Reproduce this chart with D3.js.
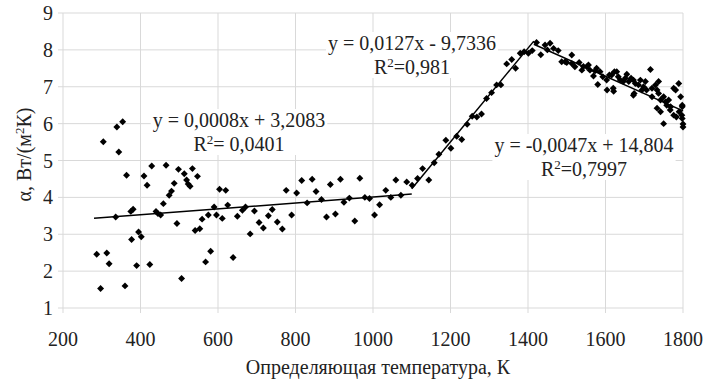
<!DOCTYPE html>
<html>
<head>
<meta charset="utf-8">
<script src="https://cdn.jsdelivr.net/npm/d3@7"></script>
<style>
  body { margin: 0; background: #fff; }
</style>
</head>
<body>
<div id="chart"></div>
<script>
// low temperature zone, [T, alpha]
var lowPoints = [[304,5.51],[339,5.91],[354,6.05],[344,5.23],[364,4.60],[429,4.85],[466,4.87],[409,4.58],[417,4.33],
  [498,4.76],[513,4.64],[534,4.78],[547,4.57],[519,4.47],[523,4.36],[528,4.30],[487,4.38],[480,4.17],[474,4.06],
  [459,3.83],[604,4.22],[620,4.19],[590,3.74],[625,3.79],[596,3.52],[611,3.43],[575,3.52],[559,3.41],[553,3.15],
  [541,3.10],[494,3.29],[440,3.62],[445,3.56],[452,3.52],[375,3.62],[381,3.68],[336,3.47],[395,3.06],[402,2.93],
  [377,2.86],[287,2.46],[313,2.49],[319,2.20],[390,2.15],[424,2.18],[297,1.53],[360,1.60],[506,1.80],[581,2.54],
  [568,2.25],[650,3.49],[639,2.37],[663,3.65],[671,3.74],[694,3.63],[683,3.01],[706,3.32],[717,3.17],[730,3.50],
  [740,3.67],[753,3.33],[766,3.14],[776,4.19],[790,3.52],[803,4.12],[816,4.46],[843,4.49],[853,4.16],[830,3.85],
  [867,3.94],[880,3.47],[890,4.35],[903,3.55],[916,4.49],[925,3.87],[939,3.98],[953,3.36],[966,4.52],[979,4.00],
  [991,3.97],[1004,3.52],[1017,3.80],[1033,4.19],[1046,4.00],[1059,4.47],[1072,4.06],[1087,4.42],[1101,4.33]]

// rising zone
var risePoints = [[1115,4.51],[1128,4.78],[1144,4.47],[1158,4.94],[1170,5.17],[1188,5.55],[1201,5.33],[1216,5.66],
  [1229,5.57],[1243,5.98],[1256,6.20],[1268,6.18],[1280,6.26],[1293,6.68],[1306,6.84],[1319,7.05],[1330,7.05],
  [1345,7.62],[1358,7.74],[1368,7.50],[1380,7.91],[1390,7.95],[1401,7.91],[1411,7.98]]

// falling zone
var fallPoints = [[1422,8.20],[1433,7.87],[1444,8.13],[1457,8.18],[1450,8.00],[1466,8.04],[1478,7.98],[1487,7.68],
  [1496,7.68],[1500,7.66],[1513,7.86],[1513,7.63],[1521,7.54],[1532,7.66],[1539,7.45],[1543,7.55],[1552,7.54],
  [1556,7.59],[1560,7.45],[1569,7.29],[1573,7.43],[1577,7.50],[1580,7.06],[1586,7.41],[1593,7.27],[1603,7.18],
  [1604,6.91],[1610,7.32],[1616,7.32],[1620,6.96],[1621,6.88],[1623,7.41],[1629,7.41],[1633,7.27],[1638,7.18],
  [1646,7.14],[1651,7.23],[1655,7.34],[1660,7.14],[1666,7.23],[1672,7.18],[1672,6.77],[1674,6.82],[1677,7.09],
  [1685,7.05],[1690,7.18],[1694,6.91],[1698,7.00],[1703,7.14],[1706,6.91],[1716,7.47],[1720,6.96],[1720,6.73],
  [1729,7.05],[1733,6.91],[1733,6.42],[1737,7.14],[1737,6.82],[1742,6.64],[1742,6.32],[1750,6.00],[1750,6.73],
  [1755,6.59],[1758,6.50],[1763,6.64],[1767,6.37],[1768,6.46],[1776,6.96],[1776,6.23],[1781,6.91],[1783,6.18],
  [1789,7.09],[1790,6.32],[1794,6.73],[1797,6.23],[1798,6.46],[1798,6.14],[1800,5.99],[1800,5.91],[1798,6.50]]

// trend lines: slope, intercept, x range
var trends = [
  {k: 0.0008, b: 3.2083, from: 280, to: 1100},
  {k: 0.0127, b: -9.7336, from: 1100, to: 1415},
  {k: -0.0047, b: 14.804, from: 1415, to: 1800}
]
var eqLabels = [
  {eq: "y = 0,0008x + 3,2083", r2: "= 0,0401", x: 239, y: 127},
  {eq: "y = 0,0127x - 9,7336", r2: "=0,981", x: 412, y: 50},
  {eq: "y = -0,0047x + 14,804", r2: "=0,7997", x: 584, y: 152}
]
var xTicks = [200, 400, 600, 800, 1000, 1200, 1400, 1600, 1800]
var yTicks = [1, 2, 3, 4, 5, 6, 7, 8, 9]

var W = 709, H = 379
var margin = {left: 63, right: 26, top: 13, bottom: 71}
var FONT = "'Liberation Serif', 'Times New Roman', Times, 'DejaVu Serif', serif"

var svg = d3.select("#chart").append("svg")
  .attr("width", W)
  .attr("height", H)
  .attr("font-family", FONT)
  .style("font-family", FONT)

var x = d3.scaleLinear().domain([200, 1800]).range([margin.left, W - margin.right])
var y = d3.scaleLinear().domain([1, 9]).range([H - margin.bottom, margin.top])

// grid
var grid = svg.append("g").attr("class", "grid")
grid.selectAll(".hl").data(yTicks).enter().append("line")
  .attr("x1", margin.left - 5).attr("x2", W - margin.right)
  .attr("y1", d => y(d)).attr("y2", d => y(d))
  .style("stroke", "#d9d9d9").style("stroke-width", 1)
grid.selectAll(".vl").data(xTicks).enter().append("line")
  .attr("x1", d => x(d)).attr("x2", d => x(d))
  .attr("y1", margin.top).attr("y2", H - margin.bottom + 5)
  .style("stroke", "#d9d9d9").style("stroke-width", 1)

// tick labels
svg.append("g").selectAll("text").data(yTicks).enter().append("text")
  .attr("x", margin.left - 10)
  .attr("y", d => y(d) + 7)
  .attr("text-anchor", "end")
  .style("font-size", "20px")
  .style("fill", "#222")
  .text(d => d)
svg.append("g").selectAll("text").data(xTicks).enter().append("text")
  .attr("x", d => x(d))
  .attr("y", H - margin.bottom + 38)
  .attr("text-anchor", "middle")
  .style("font-size", "20px")
  .style("fill", "#222")
  .text(d => d)

// axis titles
svg.append("text")
  .attr("x", (margin.left + W - margin.right) / 2 + 5)
  .attr("y", 374)
  .attr("text-anchor", "middle")
  .style("font-size", "20px")
  .style("fill", "#222")
  .text("Определяющая температура, К")

var yt = svg.append("text")
  .attr("transform", "translate(31," + ((margin.top + H - margin.bottom) / 2 - 6) + ") rotate(-90)")
  .attr("text-anchor", "middle")
  .style("font-size", "20px")
  .style("fill", "#222")
yt.append("tspan").text("α, Вт/(м")
yt.append("tspan").attr("dy", -7).style("font-size", "13px").text("2")
yt.append("tspan").attr("dy", 7).text("К)")

// points
var allPoints = lowPoints.concat(risePoints, fallPoints)
var diamond = d3.symbol().type(d3.symbolSquare).size(24)
svg.append("g").attr("class", "points")
  .selectAll("path").data(allPoints).enter().append("path")
  .attr("d", diamond)
  .attr("transform", d => "translate(" + x(d[0]) + "," + y(d[1]) + ") rotate(45)")
  .style("fill", "#000")

// trend lines
var line = d3.line().x(d => x(d[0])).y(d => y(d[1]))
svg.append("g").selectAll("path").data(trends).enter().append("path")
  .attr("d", t => line([[t.from, t.k * t.from + t.b], [t.to, t.k * t.to + t.b]]))
  .style("fill", "none")
  .style("stroke", "#000")
  .style("stroke-width", 1.5)

// equation labels with white boxes
var lab = svg.append("g").attr("class", "labels")
eqLabels.forEach(function(l) {
  var g = lab.append("g")
  var bg = g.append("rect").style("fill", "#fff")
  g.append("text")
    .attr("x", l.x).attr("y", l.y)
    .attr("text-anchor", "middle")
    .style("font-size", "20px")
    .style("fill", "#222")
    .text(l.eq)
  var r = g.append("text")
    .attr("x", l.x).attr("y", l.y + 24)
    .attr("text-anchor", "middle")
    .style("font-size", "20px")
    .style("fill", "#222")
  r.append("tspan").text("R")
  r.append("tspan").attr("dy", -7).style("font-size", "13px").text("2")
  r.append("tspan").attr("dy", 7).text(l.r2)
  var bb = g.node().getBBox()
  bg.attr("x", bb.x - 2).attr("y", bb.y).attr("width", bb.width + 4).attr("height", bb.height)
})
</script>
</body>
</html>
